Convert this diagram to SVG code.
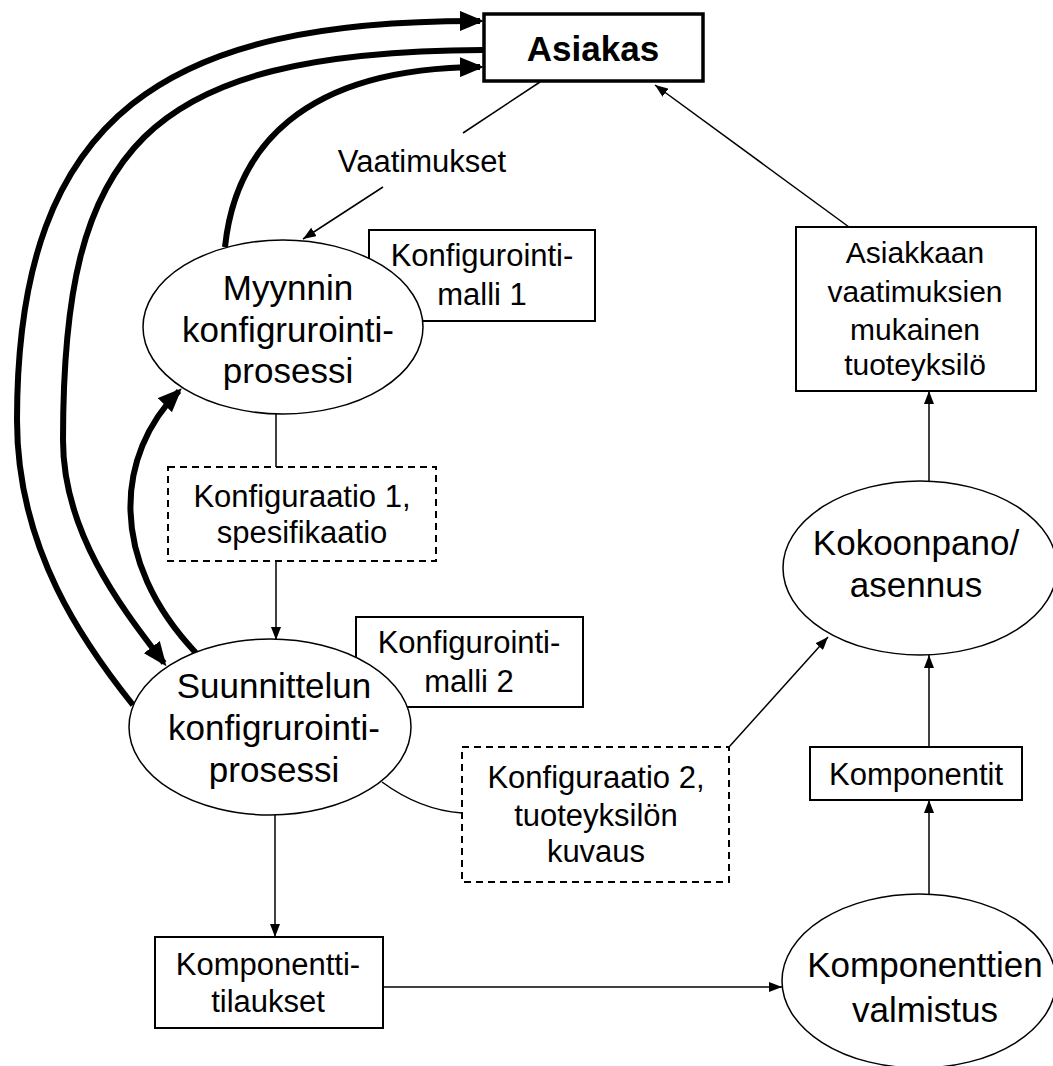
<svg xmlns="http://www.w3.org/2000/svg" width="1053" height="1066" viewBox="0 0 1053 1066">
<style>
text{font-family:"Liberation Sans",Arial,sans-serif;fill:#000;text-anchor:middle}
.f30{font-size:31px}
.f29{font-size:30px}
.f34{font-size:35px}
.bold{font-size:35px;font-weight:bold}
.box{fill:#fff;stroke:#000;stroke-width:2}
.dash{fill:#fff;stroke:#000;stroke-width:2;stroke-dasharray:7 5}
.ell{fill:#fff;stroke:#000;stroke-width:1.5}
.thin{fill:none;stroke:#000;stroke-width:1.5}
.thick{fill:none;stroke:#000;stroke-width:6}
</style>
<defs>
<marker id="a" markerUnits="userSpaceOnUse" markerWidth="13" markerHeight="10" refX="13" refY="5" orient="auto">
<path d="M0,0 L13,5 L0,10 z" fill="#000"/>
</marker>
<marker id="A" markerUnits="userSpaceOnUse" markerWidth="24" markerHeight="20" refX="20" refY="10" orient="auto">
<path d="M0,0 L24,10 L0,20 z" fill="#000"/>
</marker>
</defs>

<g id="connectors">
<path class="thick" d="M133,705 C85,645 17,550 17,420 C17,110 170,20 480,21" marker-end="url(#A)"/>
<path class="thick" d="M483,50 C140,52 63,150 63,440 C63,535 125,612 164,663" marker-end="url(#A)"/>
<path class="thick" d="M225,247 C235,150 300,68 480,67" marker-end="url(#A)"/>
<path class="thick" d="M196,653 C108,560 115,455 179,391" marker-end="url(#A)"/>
<line class="thin" x1="540" y1="82" x2="463" y2="133"/>
<line class="thin" x1="383" y1="187" x2="303" y2="239" marker-end="url(#a)"/>
<line class="thin" x1="276" y1="414" x2="276" y2="467"/>
<line class="thin" x1="276" y1="561" x2="276" y2="640" marker-end="url(#a)"/>
<path class="thin" d="M382,782 Q420,810 462,813"/>
<line class="thin" x1="729" y1="747" x2="828" y2="637" marker-end="url(#a)"/>
<line class="thin" x1="275" y1="815" x2="275" y2="937" marker-end="url(#a)"/>
<line class="thin" x1="383" y1="987" x2="782" y2="987" marker-end="url(#a)"/>
<line class="thin" x1="929" y1="894" x2="929" y2="800" marker-end="url(#a)"/>
<line class="thin" x1="929" y1="747" x2="929" y2="655" marker-end="url(#a)"/>
<line class="thin" x1="929" y1="481" x2="929" y2="391" marker-end="url(#a)"/>
<line class="thin" x1="849" y1="227" x2="655" y2="85" marker-end="url(#a)"/>
</g>

<g id="vaatimukset-label">
<text class="f30" x="422" y="172">Vaatimukset</text>
</g>

<g id="asiakas">
<rect x="484" y="14" width="219" height="67" fill="#fff" stroke="#000" stroke-width="3.5"/>
<text class="bold" x="593" y="61">Asiakas</text>
</g>

<g id="konfmalli1">
<rect class="box" x="369" y="230" width="226" height="91"/>
<text class="f30" x="482" y="266">Konfigurointi-</text>
<text class="f30" x="482" y="305">malli 1</text>
</g>

<g id="myynnin">
<ellipse class="ell" cx="283" cy="327" rx="140" ry="87"/>
<text class="f34" x="288" y="300">Myynnin</text>
<text class="f34" x="288" y="342">konfigrurointi-</text>
<text class="f34" x="288" y="383">prosessi</text>
</g>

<g id="konf1">
<rect class="dash" x="168" y="467" width="268" height="94"/>
<text class="f30" x="302" y="507">Konfiguraatio 1,</text>
<text class="f30" x="302" y="543">spesifikaatio</text>
</g>

<g id="konfmalli2">
<rect class="box" x="356" y="617" width="227" height="90"/>
<text class="f30" x="469" y="653">Konfigurointi-</text>
<text class="f30" x="469" y="692">malli 2</text>
</g>

<g id="suunnittelun">
<ellipse class="ell" cx="270" cy="727" rx="141" ry="88"/>
<text class="f34" x="274" y="698">Suunnittelun</text>
<text class="f34" x="274" y="740">konfigrurointi-</text>
<text class="f34" x="274" y="782">prosessi</text>
</g>

<g id="konf2">
<rect class="dash" x="462" y="747" width="267" height="135"/>
<text class="f30" x="596" y="788">Konfiguraatio 2,</text>
<text class="f30" x="596" y="826">tuoteyksilön</text>
<text class="f30" x="596" y="862">kuvaus</text>
</g>

<g id="komponenttitilaukset">
<rect class="box" x="155" y="937" width="228" height="91"/>
<text class="f30" x="268" y="975">Komponentti-</text>
<text class="f30" x="268" y="1012">tilaukset</text>
</g>

<g id="komponenttien">
<ellipse class="ell" cx="919" cy="981" rx="137" ry="87"/>
<text class="f34" x="925" y="977">Komponenttien</text>
<text class="f34" x="925" y="1022">valmistus</text>
</g>

<g id="komponentit">
<rect class="box" x="810" y="747" width="212" height="53"/>
<text class="f30" x="916" y="785">Komponentit</text>
</g>

<g id="kokoonpano">
<ellipse class="ell" cx="920" cy="568" rx="137" ry="87"/>
<text class="f34" x="916" y="555">Kokoonpano/</text>
<text class="f34" x="916" y="597">asennus</text>
</g>

<g id="asiakkaan">
<rect class="box" x="796" y="227" width="240" height="164"/>
<text class="f29" x="915" y="263">Asiakkaan</text>
<text class="f29" x="915" y="302">vaatimuksien</text>
<text class="f29" x="915" y="340">mukainen</text>
<text class="f29" x="915" y="375">tuoteyksilö</text>
</g>
</svg>
